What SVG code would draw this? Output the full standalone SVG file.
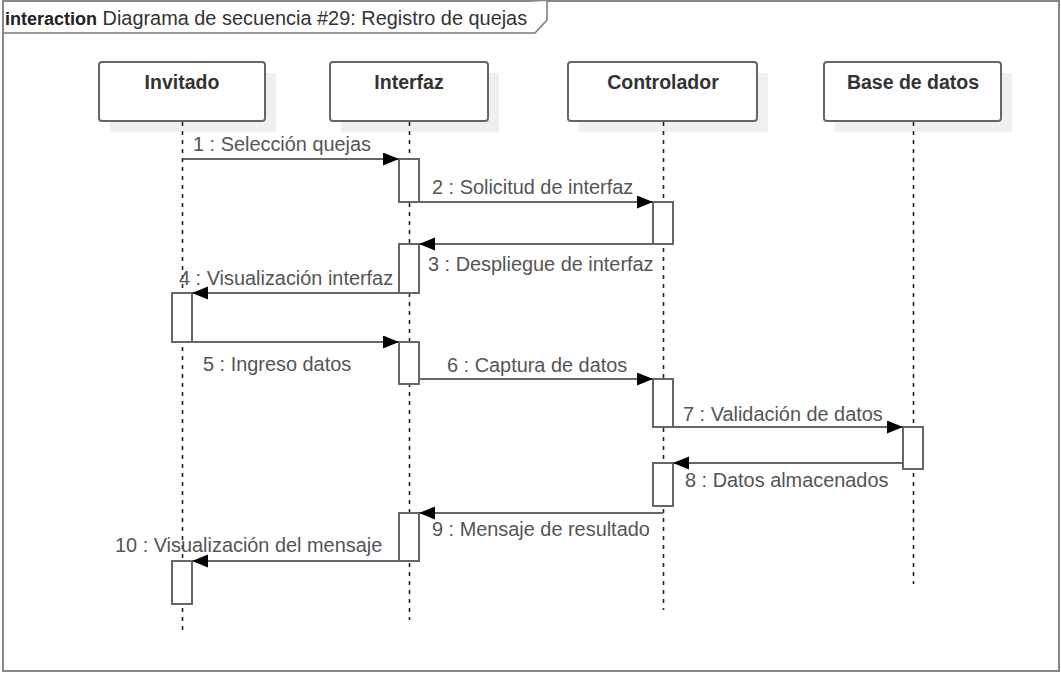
<svg xmlns="http://www.w3.org/2000/svg" width="1061" height="673" viewBox="0 0 1061 673">
<style>
.frame{fill:#fff;stroke:#888;stroke-width:2}
.tab{fill:#fff;stroke:#777;stroke-width:1.5}
.shadow{fill:#f0f0f0;stroke:none}
.head{fill:#fff;stroke:#666;stroke-width:2}
.hl{font-family:"Liberation Sans",Arial,sans-serif;font-size:19.5px;font-weight:bold;fill:#333;text-anchor:middle}
.life{stroke:#222;stroke-width:1.6;stroke-dasharray:4 5;fill:none}
.act{fill:#fff;stroke:#666;stroke-width:2}
.msg{stroke:#666;stroke-width:2;fill:none;marker-end:url(#ah)}
.ml{font-family:"Liberation Sans",Arial,sans-serif;font-size:19.9px;fill:#555}
.tt{font-family:"Liberation Sans",Arial,sans-serif;font-size:19.9px;fill:#333}
</style>
<defs>
<marker id="ah" markerUnits="userSpaceOnUse" markerWidth="17" markerHeight="14" refX="16" refY="6.5" orient="auto">
<path d="M0,0 L16,6.5 L0,13 Z" fill="#000"/>
</marker>
</defs>
<g id="frame">
<rect class="frame" x="3" y="1" width="1056" height="670"/>
<path class="tab" d="M3,33 L535,33 L547,20 L547,1"/>
<text class="tt" x="5" y="25"><tspan font-weight="bold" fill="#222" font-size="18px">interaction</tspan> Diagrama de secuencia #29: Registro de quejas</text>
</g>
<g id="lifeline-invitado">
<rect class="shadow" x="110" y="73" width="166" height="59"/>
<rect class="head" x="99" y="62" width="166" height="59" rx="3"/>
<text class="hl" x="182" y="89">Invitado</text>
<line class="life" x1="182.5" y1="122" x2="182.5" y2="630"/>
<rect class="act" x="172" y="293" width="20" height="49"/>
<rect class="act" x="172" y="561" width="20" height="43"/>
</g>
<g id="lifeline-interfaz">
<rect class="shadow" x="341" y="73" width="158" height="59"/>
<rect class="head" x="330" y="62" width="158" height="59" rx="3"/>
<text class="hl" x="409" y="89">Interfaz</text>
<line class="life" x1="409.5" y1="122" x2="409.5" y2="620"/>
<rect class="act" x="399" y="159" width="20" height="43"/>
<rect class="act" x="399" y="244" width="20" height="49"/>
<rect class="act" x="399" y="342" width="20" height="42"/>
<rect class="act" x="399" y="513" width="20" height="48"/>
</g>
<g id="lifeline-controlador">
<rect class="shadow" x="579" y="73" width="189" height="59"/>
<rect class="head" x="568" y="62" width="189" height="59" rx="3"/>
<text class="hl" x="663" y="89">Controlador</text>
<line class="life" x1="663.5" y1="122" x2="663.5" y2="610"/>
<rect class="act" x="653" y="202" width="20" height="42"/>
<rect class="act" x="653" y="379" width="20" height="48"/>
<rect class="act" x="653" y="463" width="20" height="43"/>
</g>
<g id="lifeline-basededatos">
<rect class="shadow" x="835" y="73" width="177" height="59"/>
<rect class="head" x="824" y="62" width="177" height="59" rx="3"/>
<text class="hl" x="913" y="89">Base de datos</text>
<line class="life" x1="913.5" y1="122" x2="913.5" y2="584"/>
<rect class="act" x="903" y="427" width="20" height="42"/>
</g>
<g id="messages">
<line class="msg" x1="183" y1="159" x2="399" y2="159"/>
<text class="ml" x="193" y="151">1 : Selección quejas</text>
<line class="msg" x1="419" y1="202" x2="653" y2="202"/>
<text class="ml" x="432" y="194">2 : Solicitud de interfaz</text>
<line class="msg" x1="653" y1="244" x2="419" y2="244"/>
<text class="ml" x="428" y="271">3 : Despliegue de interfaz</text>
<line class="msg" x1="399" y1="293" x2="192" y2="293"/>
<text class="ml" x="179" y="285">4 : Visualización interfaz</text>
<line class="msg" x1="192" y1="342" x2="399" y2="342"/>
<text class="ml" x="203" y="371">5 : Ingreso datos</text>
<line class="msg" x1="419" y1="379" x2="653" y2="379"/>
<text class="ml" x="447" y="372">6 : Captura de datos</text>
<line class="msg" x1="673" y1="427" x2="903" y2="427"/>
<text class="ml" x="683" y="421">7 : Validación de datos</text>
<line class="msg" x1="903" y1="463" x2="673" y2="463"/>
<text class="ml" x="685" y="487">8 : Datos almacenados</text>
<line class="msg" x1="663" y1="513" x2="419" y2="513"/>
<text class="ml" x="432" y="536">9 : Mensaje de resultado</text>
<line class="msg" x1="399" y1="561" x2="192" y2="561"/>
<text class="ml" x="115" y="552">10 : Visualización del mensaje</text>
</g>
</svg>
